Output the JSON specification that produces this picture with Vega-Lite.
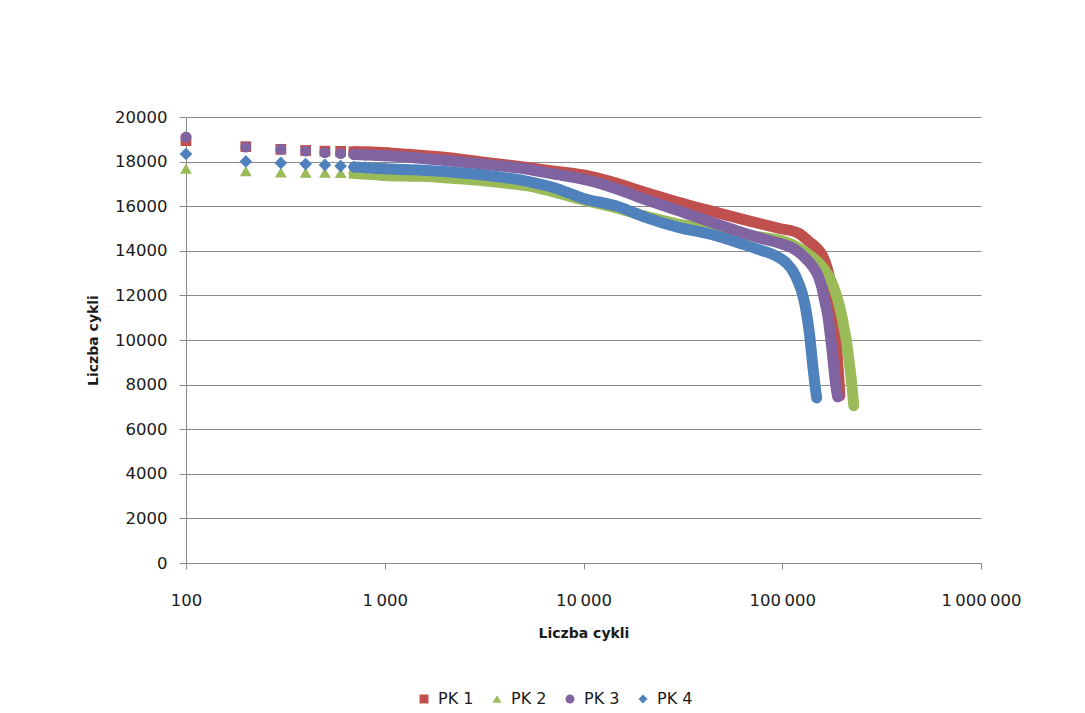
{
  "$schema": "https://vega.github.io/schema/vega-lite/v6.json",
  "width": 795,
  "height": 446,
  "autosize": {"type": "none"},
  "padding": {"left": 186, "top": 117, "right": 104, "bottom": 150},
  "background": "white",
  "config": {
    "view": {"stroke": null},
    "font": "DejaVu Sans",
    "axis": {
      "labelFont": "DejaVu Sans",
      "labelFontSize": 16.5,
      "labelColor": "#1a1a1a",
      "titleFont": "DejaVu Sans",
      "titleFontSize": 14,
      "titleFontWeight": "bold",
      "titleColor": "#1a1a1a",
      "domainColor": "#8a8a8a",
      "tickColor": "#8a8a8a",
      "gridColor": "#8a8a8a",
      "gridOpacity": 1
    }
  },
  "data": {
    "values": [
      {"series": "PK 1", "cycles": 100, "value": 18940},
      {"series": "PK 1", "cycles": 200, "value": 18670},
      {"series": "PK 1", "cycles": 300, "value": 18550},
      {"series": "PK 1", "cycles": 400, "value": 18500},
      {"series": "PK 1", "cycles": 500, "value": 18470},
      {"series": "PK 1", "cycles": 600, "value": 18460},
      {"series": "PK 1", "cycles": 700, "value": 18440},
      {"series": "PK 1", "cycles": 800, "value": 18430},
      {"series": "PK 1", "cycles": 900, "value": 18420},
      {"series": "PK 1", "cycles": 1000, "value": 18400},
      {"series": "PK 1", "cycles": 1300, "value": 18330},
      {"series": "PK 1", "cycles": 2000, "value": 18200},
      {"series": "PK 1", "cycles": 3000, "value": 18000},
      {"series": "PK 1", "cycles": 4760, "value": 17780},
      {"series": "PK 1", "cycles": 7000, "value": 17580},
      {"series": "PK 1", "cycles": 10000, "value": 17400},
      {"series": "PK 1", "cycles": 14000, "value": 17080},
      {"series": "PK 1", "cycles": 20000, "value": 16650},
      {"series": "PK 1", "cycles": 30000, "value": 16180},
      {"series": "PK 1", "cycles": 44000, "value": 15780},
      {"series": "PK 1", "cycles": 64000, "value": 15400},
      {"series": "PK 1", "cycles": 97000, "value": 15000},
      {"series": "PK 1", "cycles": 120000, "value": 14800},
      {"series": "PK 1", "cycles": 137000, "value": 14400},
      {"series": "PK 1", "cycles": 150000, "value": 14100},
      {"series": "PK 1", "cycles": 160000, "value": 13750},
      {"series": "PK 1", "cycles": 168000, "value": 13250},
      {"series": "PK 1", "cycles": 172000, "value": 12900},
      {"series": "PK 1", "cycles": 178000, "value": 12000},
      {"series": "PK 1", "cycles": 183000, "value": 11000},
      {"series": "PK 1", "cycles": 187000, "value": 10000},
      {"series": "PK 1", "cycles": 190000, "value": 9000},
      {"series": "PK 1", "cycles": 193000, "value": 8200},
      {"series": "PK 1", "cycles": 195000, "value": 7500},
      {"series": "PK 2", "cycles": 100, "value": 17690},
      {"series": "PK 2", "cycles": 200, "value": 17570},
      {"series": "PK 2", "cycles": 300, "value": 17520},
      {"series": "PK 2", "cycles": 400, "value": 17510},
      {"series": "PK 2", "cycles": 500, "value": 17500},
      {"series": "PK 2", "cycles": 600, "value": 17490},
      {"series": "PK 2", "cycles": 700, "value": 17470},
      {"series": "PK 2", "cycles": 800, "value": 17440},
      {"series": "PK 2", "cycles": 900, "value": 17410},
      {"series": "PK 2", "cycles": 1000, "value": 17380},
      {"series": "PK 2", "cycles": 1500, "value": 17340},
      {"series": "PK 2", "cycles": 2000, "value": 17280},
      {"series": "PK 2", "cycles": 3000, "value": 17160},
      {"series": "PK 2", "cycles": 4000, "value": 17040},
      {"series": "PK 2", "cycles": 5500, "value": 16880},
      {"series": "PK 2", "cycles": 7000, "value": 16650},
      {"series": "PK 2", "cycles": 10000, "value": 16280},
      {"series": "PK 2", "cycles": 15000, "value": 15900},
      {"series": "PK 2", "cycles": 20000, "value": 15580},
      {"series": "PK 2", "cycles": 30000, "value": 15200},
      {"series": "PK 2", "cycles": 44000, "value": 14950},
      {"series": "PK 2", "cycles": 60000, "value": 14760},
      {"series": "PK 2", "cycles": 77000, "value": 14620},
      {"series": "PK 2", "cycles": 100000, "value": 14450},
      {"series": "PK 2", "cycles": 120000, "value": 14150},
      {"series": "PK 2", "cycles": 140000, "value": 13750},
      {"series": "PK 2", "cycles": 160000, "value": 13250},
      {"series": "PK 2", "cycles": 175000, "value": 12700},
      {"series": "PK 2", "cycles": 185000, "value": 12150},
      {"series": "PK 2", "cycles": 193000, "value": 11600},
      {"series": "PK 2", "cycles": 200000, "value": 11000},
      {"series": "PK 2", "cycles": 205000, "value": 10500},
      {"series": "PK 2", "cycles": 210000, "value": 10000},
      {"series": "PK 2", "cycles": 215000, "value": 9300},
      {"series": "PK 2", "cycles": 220000, "value": 8600},
      {"series": "PK 2", "cycles": 225000, "value": 7800},
      {"series": "PK 2", "cycles": 229000, "value": 7050},
      {"series": "PK 3", "cycles": 100, "value": 19100},
      {"series": "PK 3", "cycles": 200, "value": 18650},
      {"series": "PK 3", "cycles": 300, "value": 18550},
      {"series": "PK 3", "cycles": 400, "value": 18470},
      {"series": "PK 3", "cycles": 500, "value": 18400},
      {"series": "PK 3", "cycles": 600, "value": 18360},
      {"series": "PK 3", "cycles": 700, "value": 18320},
      {"series": "PK 3", "cycles": 800, "value": 18300},
      {"series": "PK 3", "cycles": 900, "value": 18280},
      {"series": "PK 3", "cycles": 1000, "value": 18260},
      {"series": "PK 3", "cycles": 1900, "value": 18070},
      {"series": "PK 3", "cycles": 3000, "value": 17900},
      {"series": "PK 3", "cycles": 4760, "value": 17710},
      {"series": "PK 3", "cycles": 7000, "value": 17450},
      {"series": "PK 3", "cycles": 10700, "value": 17150},
      {"series": "PK 3", "cycles": 15000, "value": 16750},
      {"series": "PK 3", "cycles": 20500, "value": 16300},
      {"series": "PK 3", "cycles": 30000, "value": 15800},
      {"series": "PK 3", "cycles": 44000, "value": 15280},
      {"series": "PK 3", "cycles": 60000, "value": 14880},
      {"series": "PK 3", "cycles": 77000, "value": 14580},
      {"series": "PK 3", "cycles": 100000, "value": 14300},
      {"series": "PK 3", "cycles": 113000, "value": 14120},
      {"series": "PK 3", "cycles": 128000, "value": 13750},
      {"series": "PK 3", "cycles": 143000, "value": 13270},
      {"series": "PK 3", "cycles": 152000, "value": 12850},
      {"series": "PK 3", "cycles": 158000, "value": 12380},
      {"series": "PK 3", "cycles": 164000, "value": 11700},
      {"series": "PK 3", "cycles": 170000, "value": 11030},
      {"series": "PK 3", "cycles": 174000, "value": 10300},
      {"series": "PK 3", "cycles": 178000, "value": 9550},
      {"series": "PK 3", "cycles": 182000, "value": 8700},
      {"series": "PK 3", "cycles": 186000, "value": 7950},
      {"series": "PK 3", "cycles": 190000, "value": 7450},
      {"series": "PK 4", "cycles": 100, "value": 18340},
      {"series": "PK 4", "cycles": 200, "value": 18010},
      {"series": "PK 4", "cycles": 300, "value": 17940},
      {"series": "PK 4", "cycles": 400, "value": 17890},
      {"series": "PK 4", "cycles": 500, "value": 17850},
      {"series": "PK 4", "cycles": 600, "value": 17800},
      {"series": "PK 4", "cycles": 700, "value": 17760},
      {"series": "PK 4", "cycles": 800, "value": 17730},
      {"series": "PK 4", "cycles": 900, "value": 17700},
      {"series": "PK 4", "cycles": 1000, "value": 17680},
      {"series": "PK 4", "cycles": 1500, "value": 17620},
      {"series": "PK 4", "cycles": 2000, "value": 17560},
      {"series": "PK 4", "cycles": 3000, "value": 17420},
      {"series": "PK 4", "cycles": 5000, "value": 17150},
      {"series": "PK 4", "cycles": 7000, "value": 16850},
      {"series": "PK 4", "cycles": 10000, "value": 16350},
      {"series": "PK 4", "cycles": 15000, "value": 15980},
      {"series": "PK 4", "cycles": 20500, "value": 15500},
      {"series": "PK 4", "cycles": 30000, "value": 15050},
      {"series": "PK 4", "cycles": 44000, "value": 14730},
      {"series": "PK 4", "cycles": 64000, "value": 14280},
      {"series": "PK 4", "cycles": 77000, "value": 14040},
      {"series": "PK 4", "cycles": 93000, "value": 13770},
      {"series": "PK 4", "cycles": 105000, "value": 13450},
      {"series": "PK 4", "cycles": 113000, "value": 13100},
      {"series": "PK 4", "cycles": 121000, "value": 12550},
      {"series": "PK 4", "cycles": 126000, "value": 12100},
      {"series": "PK 4", "cycles": 130000, "value": 11600},
      {"series": "PK 4", "cycles": 134000, "value": 10900},
      {"series": "PK 4", "cycles": 137000, "value": 10300},
      {"series": "PK 4", "cycles": 140000, "value": 9500},
      {"series": "PK 4", "cycles": 143000, "value": 8700},
      {"series": "PK 4", "cycles": 146000, "value": 8000},
      {"series": "PK 4", "cycles": 149000, "value": 7400}
    ]
  },
  "encoding": {
    "x": {
      "field": "cycles",
      "type": "quantitative",
      "title": "Liczba cykli",
      "scale": {"type": "log", "domain": [100, 1000000], "nice": false},
      "axis": {
        "values": [100, 1000, 10000, 100000, 1000000],
        "grid": false,
        "tickSize": 6,
        "labelFlush": false,
        "labelOverlap": false,
        "labelPadding": 23,
        "titlePadding": 18,
        "labelExpr": "replace(format(datum.value, ','), regexp(',', 'g'), '\u2009')"
      }
    },
    "y": {
      "field": "value",
      "type": "quantitative",
      "title": "Liczba cykli",
      "scale": {"domain": [0, 20000], "nice": false, "zero": true},
      "axis": {
        "values": [0, 2000, 4000, 6000, 8000, 10000, 12000, 14000, 16000, 18000, 20000],
        "format": "d",
        "grid": true,
        "tickSize": 7,
        "labelFlush": false,
        "labelPadding": 12,
        "titlePadding": 14
      }
    }
  },
  "layer": [
    {
      "transform": [{"filter": "datum.series === 'PK 1' && datum.cycles >= 700"}],
      "mark": {"type": "line", "color": "#C0504D", "strokeWidth": 11, "strokeCap": "round", "strokeJoin": "round", "interpolate": "monotone"},
      "encoding": {}
    },
    {
      "transform": [{"filter": "datum.series === 'PK 1' && datum.cycles <= 1000"}],
      "mark": {"type": "point", "filled": true, "opacity": 1, "size": 115},
      "encoding": {
        "color": {"field": "series", "type": "nominal", "scale": {"domain": ["PK 1", "PK 2", "PK 3", "PK 4"], "range": ["#C0504D", "#9BBB59", "#8064A2", "#4F81BD"]}, "legend": {"title": null, "orient": "none", "legendX": 230, "legendY": 574, "direction": "horizontal", "labelFont": "DejaVu Sans", "labelFontSize": 16, "labelColor": "#1a1a1a", "symbolSize": 80, "columnPadding": 15, "labelOffset": 6, "padding": 0}},
        "shape": {"field": "series", "type": "nominal", "scale": {"domain": ["PK 1", "PK 2", "PK 3", "PK 4"], "range": ["square", "triangle-up", "circle", "diamond"]}}
      }
    },
    {
      "transform": [{"filter": "datum.series === 'PK 2' && datum.cycles >= 700"}],
      "mark": {"type": "line", "color": "#9BBB59", "strokeWidth": 11, "strokeCap": "round", "strokeJoin": "round", "interpolate": "monotone"},
      "encoding": {}
    },
    {
      "transform": [{"filter": "datum.series === 'PK 2' && datum.cycles <= 1000"}],
      "mark": {"type": "point", "filled": true, "opacity": 1, "size": 140},
      "encoding": {
        "color": {"field": "series", "type": "nominal", "scale": {"domain": ["PK 1", "PK 2", "PK 3", "PK 4"], "range": ["#C0504D", "#9BBB59", "#8064A2", "#4F81BD"]}},
        "shape": {"field": "series", "type": "nominal", "scale": {"domain": ["PK 1", "PK 2", "PK 3", "PK 4"], "range": ["square", "triangle-up", "circle", "diamond"]}}
      }
    },
    {
      "transform": [{"filter": "datum.series === 'PK 3' && datum.cycles >= 700"}],
      "mark": {"type": "line", "color": "#8064A2", "strokeWidth": 11, "strokeCap": "round", "strokeJoin": "round", "interpolate": "monotone"},
      "encoding": {}
    },
    {
      "transform": [{"filter": "datum.series === 'PK 3' && datum.cycles <= 1000"}],
      "mark": {"type": "point", "filled": true, "opacity": 1, "size": 120},
      "encoding": {
        "color": {"field": "series", "type": "nominal", "scale": {"domain": ["PK 1", "PK 2", "PK 3", "PK 4"], "range": ["#C0504D", "#9BBB59", "#8064A2", "#4F81BD"]}},
        "shape": {"field": "series", "type": "nominal", "scale": {"domain": ["PK 1", "PK 2", "PK 3", "PK 4"], "range": ["square", "triangle-up", "circle", "diamond"]}}
      }
    },
    {
      "transform": [{"filter": "datum.series === 'PK 4' && datum.cycles >= 700"}],
      "mark": {"type": "line", "color": "#4F81BD", "strokeWidth": 11, "strokeCap": "round", "strokeJoin": "round", "interpolate": "monotone"},
      "encoding": {}
    },
    {
      "transform": [{"filter": "datum.series === 'PK 4' && datum.cycles <= 1000"}],
      "mark": {"type": "point", "filled": true, "opacity": 1, "size": 160},
      "encoding": {
        "color": {"field": "series", "type": "nominal", "scale": {"domain": ["PK 1", "PK 2", "PK 3", "PK 4"], "range": ["#C0504D", "#9BBB59", "#8064A2", "#4F81BD"]}},
        "shape": {"field": "series", "type": "nominal", "scale": {"domain": ["PK 1", "PK 2", "PK 3", "PK 4"], "range": ["square", "triangle-up", "circle", "diamond"]}}
      }
    }
  ]
}
